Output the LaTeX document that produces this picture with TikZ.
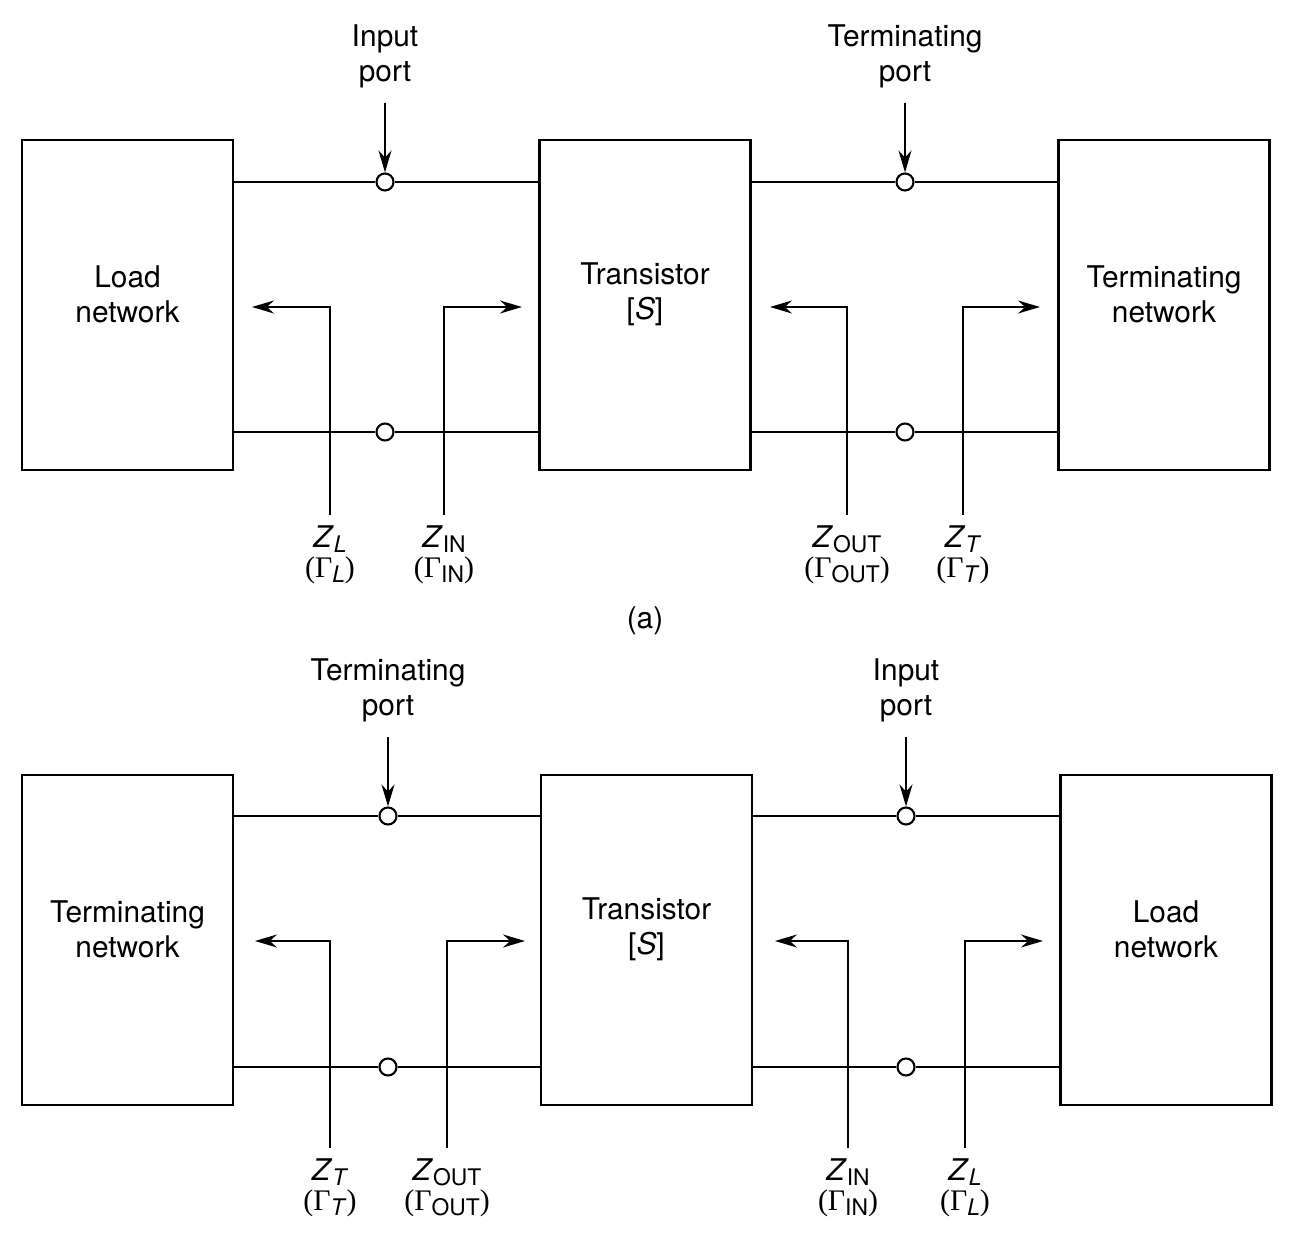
\documentclass[tikz,border=0pt]{standalone}
\usepackage{fontspec}
\setmainfont{TeX Gyre Heros}
\newfontfamily\grk{Liberation Serif}
\usepackage{tikz}
\usetikzlibrary{arrows.meta, positioning}
\newcommand{\sbs}[1]{\raisebox{-0.35ex}{\fontsize{13}{13}\selectfont #1}}
\newcommand{\impz}[2]{\textit{Z}\sbs{#1}\\{\grk(Γ}\sbs{#2}{\grk)}}

\begin{document}
\begin{tikzpicture}[
      >={Stealth[length=4.4mm, width=2.6mm]},
      font=\fontsize{17}{19.8}\selectfont,
      blk/.style={draw, line width=1.6pt, minimum width=4.22cm,
        minimum height=6.6cm},
      blktxt/.style={align=center, yshift=0.21cm},
      pin/.style={draw, circle, line width=1.2pt, fill=white,
        minimum size=0.34cm, inner sep=0pt},
      wire/.style={line width=1.4pt},
      feed/.style={->, line width=0.9pt, shorten <=0.18cm},
      imp/.style={->, line width=0.8pt},
      lbl/.style={align=center},
      zlbl/.style={align=center, anchor=north, inner xsep=1pt, inner ysep=0.2cm,
        font=\fontsize{17}{17}\selectfont}]
    \useasboundingbox (0,0) rectangle (25.86,-24.72);
    % (a)
    \node[blk, label={[blktxt]center:{Load\\network}}] (loadA) at (2.55,-6.1) {};
    \node[blk, label={[blktxt]center:{Transistor\\{[}\textit{S}{]}}}] (transA) at (12.9,-6.1) {};
    \node[blk, label={[blktxt]center:{Terminating\\network}}] (termA) at (23.28,-6.1) {};
    \node[pin] (inA) at (7.7,-3.64) {};
    \node[pin] (inAlow) at (7.7,-8.64) {};
    \node[pin] (tpA) at (18.1,-3.64) {};
    \node[pin] (tpAlow) at (18.1,-8.64) {};
    \node[lbl] (inlblA) at (7.7,-1.12) {Input\\port};
    \node[lbl] (tplblA) at (18.1,-1.12) {Terminating\\port};
    \draw[wire] (loadA.east |- inA) -- (inA) -- (transA.west |- inA);
    \draw[wire] (loadA.east |- inAlow) -- (inAlow) -- (transA.west |- inAlow);
    \draw[wire] (transA.east |- tpA) -- (tpA) -- (termA.west |- tpA);
    \draw[wire] (transA.east |- tpAlow) -- (tpAlow) -- (termA.west |- tpAlow);
    \draw[feed] (inlblA) -- (inA);
    \draw[feed] (tplblA) -- (tpA);
    \node[zlbl] (zlA) at (6.6,-10.3) {\impz{\textit{L}}{\textit{L}}};
    \node[zlbl] (zinA) at (8.88,-10.3) {\impz{IN}{IN}};
    \node[zlbl] (zoutA) at (16.94,-10.3) {\impz{OUT}{OUT}};
    \node[zlbl] (ztA) at (19.26,-10.3) {\impz{\textit{T}}{\textit{T}}};
    \coordinate (zlAend) at (5.04,-6.14);
    \coordinate (zinAend) at (10.44,-6.14);
    \coordinate (zoutAend) at (15.4,-6.14);
    \coordinate (ztAend) at (20.8,-6.14);
    \draw[imp] (zlA.north) |- (zlAend);
    \draw[imp] (zinA.north) |- (zinAend);
    \draw[imp] (zoutA.north) |- (zoutAend);
    \draw[imp] (ztA.north) |- (ztAend);
    \node (capA) at (12.9,-12.42) {(a)};
    % (b)
    \node[blk, label={[blktxt]center:{Terminating\\network}}] (termB) at (2.55,-18.8) {};
    \node[blk, label={[blktxt]center:{Transistor\\{[}\textit{S}{]}}}] (transB) at (12.93,-18.8) {};
    \node[blk, label={[blktxt]center:{Load\\network}}] (loadB) at (23.32,-18.8) {};
    \node[pin] (tpB) at (7.76,-16.32) {};
    \node[pin] (tpBlow) at (7.76,-21.34) {};
    \node[pin] (inB) at (18.12,-16.32) {};
    \node[pin] (inBlow) at (18.12,-21.34) {};
    \node[lbl] (tplblB) at (7.76,-13.81) {Terminating\\port};
    \node[lbl] (inlblB) at (18.12,-13.81) {Input\\port};
    \draw[wire] (termB.east |- tpB) -- (tpB) -- (transB.west |- tpB);
    \draw[wire] (termB.east |- tpBlow) -- (tpBlow) -- (transB.west |- tpBlow);
    \draw[wire] (transB.east |- inB) -- (inB) -- (loadB.west |- inB);
    \draw[wire] (transB.east |- inBlow) -- (inBlow) -- (loadB.west |- inBlow);
    \draw[feed] (tplblB) -- (tpB);
    \draw[feed] (inlblB) -- (inB);
    \node[zlbl] (ztB) at (6.6,-22.96) {\impz{\textit{T}}{\textit{T}}};
    \node[zlbl] (zoutB) at (8.94,-22.96) {\impz{OUT}{OUT}};
    \node[zlbl] (zinB) at (16.96,-22.96) {\impz{IN}{IN}};
    \node[zlbl] (zlB) at (19.3,-22.96) {\impz{\textit{L}}{\textit{L}}};
    \coordinate (ztBend) at (5.1,-18.82);
    \coordinate (zoutBend) at (10.5,-18.82);
    \coordinate (zinBend) at (15.5,-18.82);
    \coordinate (zlBend) at (20.86,-18.82);
    \draw[imp] (ztB.north) |- (ztBend);
    \draw[imp] (zoutB.north) |- (zoutBend);
    \draw[imp] (zinB.north) |- (zinBend);
    \draw[imp] (zlB.north) |- (zlBend);
  \end{tikzpicture}
\end{document}
